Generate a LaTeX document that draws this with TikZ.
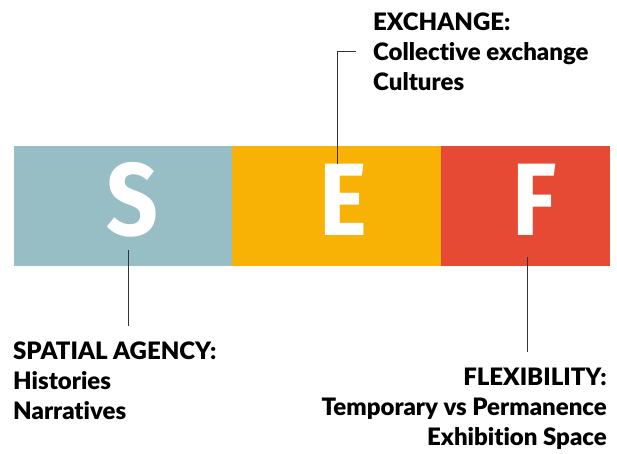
\documentclass[tikz,border=0pt]{standalone}
\usepackage{fontspec}
\setmainfont{Lato}
\newfontfamily\capfont[Ligatures={NoCommon}]{Lato Black}
\newfontfamily\letterfont[FakeStretch=0.88]{Fira Sans}
\definecolor{sblue}{HTML}{97BEC4}
\definecolor{eorange}{HTML}{F7B205}
\definecolor{fred}{HTML}{E64A34}
\definecolor{leadgray}{HTML}{333333}
\tikzset{
  bar/.style={rectangle,draw=none,inner sep=0pt,outer sep=0pt,minimum height=120pt},
  letter/.style={anchor=base,inner sep=0pt,text=white,font=\letterfont\bfseries\fontsize{103}{103}\selectfont},
  leader/.style={draw=leadgray,line width=1pt},
  caption/.style={inner sep=0pt,font=\capfont\fontsize{24}{30}\selectfont,text=black}
}
\begin{document}
\begin{tikzpicture}[x=1pt,y=-1pt]
\useasboundingbox (0,0) rectangle (617,454);
\node[bar,fill=sblue,minimum width=218pt] (S) at (123,206) {};
\node[bar,fill=eorange,minimum width=209pt] (E) at (336.5,206) {};
\node[bar,fill=fred,minimum width=169pt] (F) at (525.5,206) {};
\node[letter] (Sl) at (132.5,235) {S};
\node[letter] (El) at (343.5,235) {E};
\node[letter] (Fl) at (535,235) {F};
\coordinate (s1) at (128,250);
\coordinate (s2) at (128,326);
\coordinate (e1) at (337,164);
\coordinate (e2) at (337,52);
\coordinate (e3) at (356,52);
\coordinate (f1) at (527,257);
\coordinate (f2) at (527,352);
\draw[leader] (s1) -- (s2);
\draw[leader] (e1) -- (e2) -- (e3);
\draw[leader] (f1) -- (f2);
\node[caption,anchor=north west,align=left] (ex) at (373,13) {EXCHANGE:\\Collective exchange\\Cultures};
\node[caption,anchor=north west,align=left] (sp) at (13,342) {SPATIAL AGENCY:\\Histories\\Narratives};
\node[caption,anchor=north east,align=right] (fl) at (607,368) {FLEXIBILITY:\\Temporary vs Permanence\\Exhibition Space};
\end{tikzpicture}
\end{document}
